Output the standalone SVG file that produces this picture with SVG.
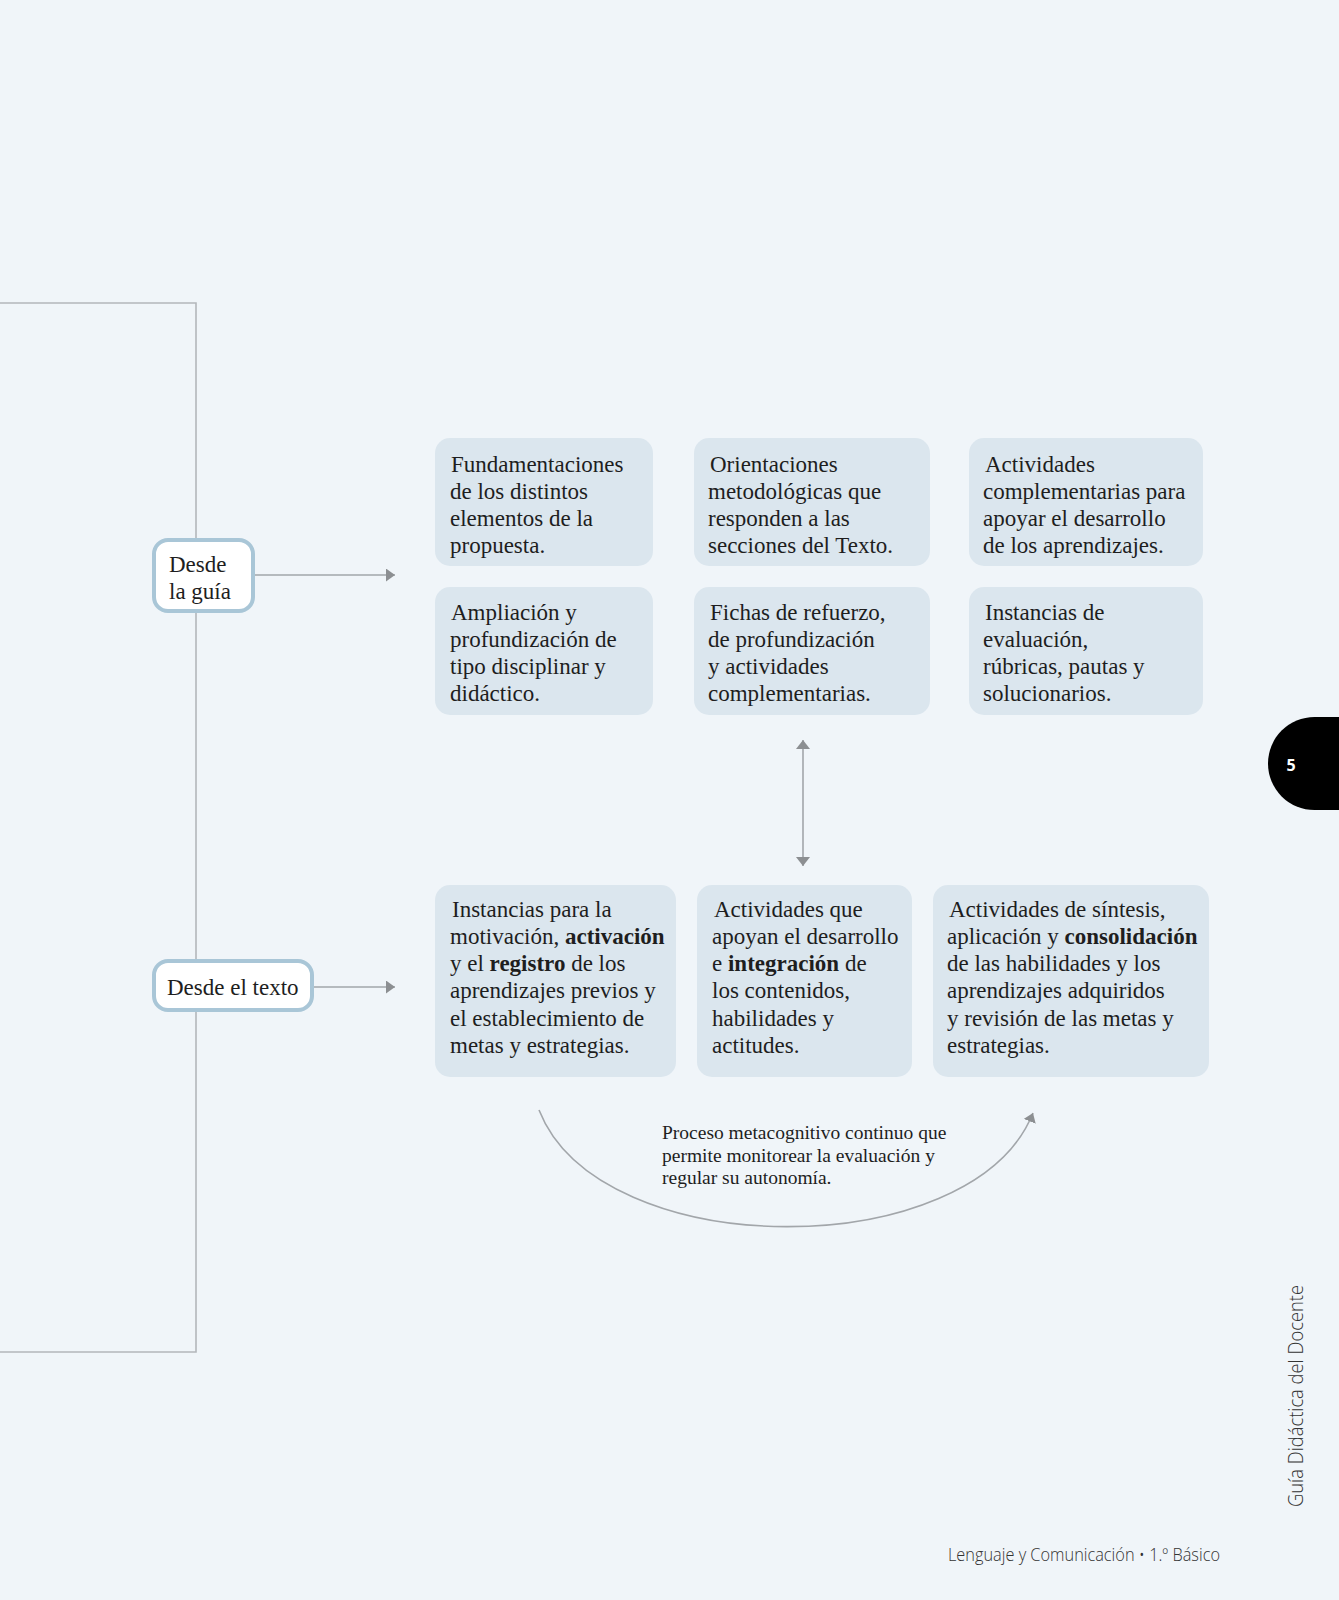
<svg xmlns="http://www.w3.org/2000/svg" width="1339" height="1600" viewBox="0 0 1339 1600">
<defs>
<style>
.t{font-family:"Liberation Serif","Times New Roman",serif;font-size:23px;fill:#1e1e1e}
.b{font-weight:bold}
.box{fill:#dbe6ee}
.src{fill:#ffffff;stroke:#a9c6d7;stroke-width:4}
.ln{fill:none;stroke:#a2a6aa;stroke-width:1.6}
.br{fill:none;stroke:#b3b7bb;stroke-width:1.6}
.p{font-size:19.5px}
</style>
<marker id="ah" viewBox="0 0 10 10" refX="10" refY="5" markerWidth="9" markerHeight="13" markerUnits="userSpaceOnUse" orient="auto-start-reverse" preserveAspectRatio="none">
<path d="M0,0 L10,5 L0,10 Z" fill="#8c8f92"/>
</marker>
<marker id="ah2" viewBox="0 0 10 10" refX="10" refY="5" markerWidth="9" markerHeight="14" markerUnits="userSpaceOnUse" orient="auto-start-reverse" preserveAspectRatio="none">
<path d="M0,0 L10,5 L0,10 Z" fill="#8c8f92"/>
</marker>
</defs>
<rect x="0" y="0" width="1339" height="1600" fill="#f0f5f9"/>

<g id="connectors">
<path class="br" d="M0,303 H196 V1352 H0"/>
<path class="ln" d="M255,575 H395" marker-end="url(#ah)"/>
<path class="ln" d="M313,987 H395" marker-end="url(#ah)"/>
<path class="ln" d="M803,740 V866" marker-start="url(#ah2)" marker-end="url(#ah2)"/>
<path class="ln" d="M539,1110 C600,1265 972,1265 1033,1113" stroke-width="1.3" marker-end="url(#ah)"/>
</g>

<g id="desde-guia">
<rect class="src" x="154" y="540" width="99" height="71" rx="14"/>
<text class="t" x="169" y="572">Desde</text>
<text class="t" x="169" y="599">la guía</text>
</g>

<g id="desde-texto">
<rect class="src" x="154" y="961" width="158" height="49" rx="14"/>
<text class="t" x="167" y="995">Desde el texto</text>
</g>

<g id="g1">
<rect class="box" x="435" y="438" width="218" height="128" rx="15"/>
<text class="t" x="451" y="471.5">Fundamentaciones</text>
<text class="t" x="450" y="499">de los distintos</text>
<text class="t" x="450" y="526">elementos de la</text>
<text class="t" x="450" y="553">propuesta.</text>
</g>
<g id="g2">
<rect class="box" x="694" y="438" width="236" height="128" rx="15"/>
<text class="t" x="710" y="471.5">Orientaciones</text>
<text class="t" x="708" y="499">metodológicas que</text>
<text class="t" x="708" y="526">responden a las</text>
<text class="t" x="708" y="553">secciones del Texto.</text>
</g>
<g id="g3">
<rect class="box" x="969" y="438" width="234" height="128" rx="15"/>
<text class="t" x="985" y="471.5">Actividades</text>
<text class="t" x="983" y="499">complementarias para</text>
<text class="t" x="983" y="526">apoyar el desarrollo</text>
<text class="t" x="983" y="553">de los aprendizajes.</text>
</g>
<g id="g4">
<rect class="box" x="435" y="587" width="218" height="128" rx="15"/>
<text class="t" x="451" y="620">Ampliación y</text>
<text class="t" x="450" y="647">profundización de</text>
<text class="t" x="450" y="674">tipo disciplinar y</text>
<text class="t" x="450" y="701">didáctico.</text>
</g>
<g id="g5">
<rect class="box" x="694" y="587" width="236" height="128" rx="15"/>
<text class="t" x="710" y="620">Fichas de refuerzo,</text>
<text class="t" x="708" y="647">de profundización</text>
<text class="t" x="708" y="674">y actividades</text>
<text class="t" x="708" y="701">complementarias.</text>
</g>
<g id="g6">
<rect class="box" x="969" y="587" width="234" height="128" rx="15"/>
<text class="t" x="985" y="620">Instancias de</text>
<text class="t" x="983" y="647">evaluación,</text>
<text class="t" x="983" y="674">rúbricas, pautas y</text>
<text class="t" x="983" y="701">solucionarios.</text>
</g>

<g id="t1">
<rect class="box" x="435" y="885" width="241" height="192" rx="15"/>
<text class="t" x="452" y="917">Instancias para la</text>
<text class="t" x="450" y="943.5">motivación, <tspan class="b">activación</tspan></text>
<text class="t" x="450" y="970.5">y el <tspan class="b">registro</tspan> de los</text>
<text class="t" x="450" y="998">aprendizajes previos y</text>
<text class="t" x="450" y="1025.5">el establecimiento de</text>
<text class="t" x="450" y="1052.5">metas y estrategias.</text>
</g>
<g id="t2">
<rect class="box" x="697" y="885" width="215" height="192" rx="15"/>
<text class="t" x="714" y="917">Actividades que</text>
<text class="t" x="712" y="943.5">apoyan el desarrollo</text>
<text class="t" x="712" y="970.5">e <tspan class="b">integración</tspan> de</text>
<text class="t" x="712" y="998">los contenidos,</text>
<text class="t" x="712" y="1025.5">habilidades y</text>
<text class="t" x="712" y="1052.5">actitudes.</text>
</g>
<g id="t3">
<rect class="box" x="933" y="885" width="276" height="192" rx="15"/>
<text class="t" x="949" y="917">Actividades de síntesis,</text>
<text class="t" x="947" y="943.5">aplicación y <tspan class="b">consolidación</tspan></text>
<text class="t" x="947" y="970.5">de las habilidades y los</text>
<text class="t" x="947" y="998">aprendizajes adquiridos</text>
<text class="t" x="947" y="1025.5">y revisión de las metas y</text>
<text class="t" x="947" y="1052.5">estrategias.</text>
</g>

<g id="proceso">
<text class="t p" x="662" y="1139">Proceso metacognitivo continuo que</text>
<text class="t p" x="662" y="1161.5">permite monitorear la evaluación y</text>
<text class="t p" x="662" y="1184">regular su autonomía.</text>
</g>

<g id="page-tab">
<path d="M1339,717 H1314.5 A46.5,46.5 0 0 0 1314.5,810 H1339 Z" fill="#000000"/>
<text x="1291" y="771" text-anchor="middle" style="font-family:'Open Sans','Liberation Sans',sans-serif;font-weight:bold;font-size:16px;fill:#ffffff">5</text>
</g>

<g id="footer">
<text x="948" y="1561" textLength="272" lengthAdjust="spacingAndGlyphs" style="font-family:'Open Sans','Liberation Sans',sans-serif;font-weight:300;font-size:18px;fill:#333333">Lenguaje y Comunicación • 1.º Básico</text>
<text transform="translate(1303,1507) rotate(-90)" x="0" y="0" textLength="222" lengthAdjust="spacingAndGlyphs" style="font-family:'Open Sans','Liberation Sans',sans-serif;font-weight:300;font-size:21px;fill:#333333">Guía Didáctica del Docente</text>
</g>
</svg>
